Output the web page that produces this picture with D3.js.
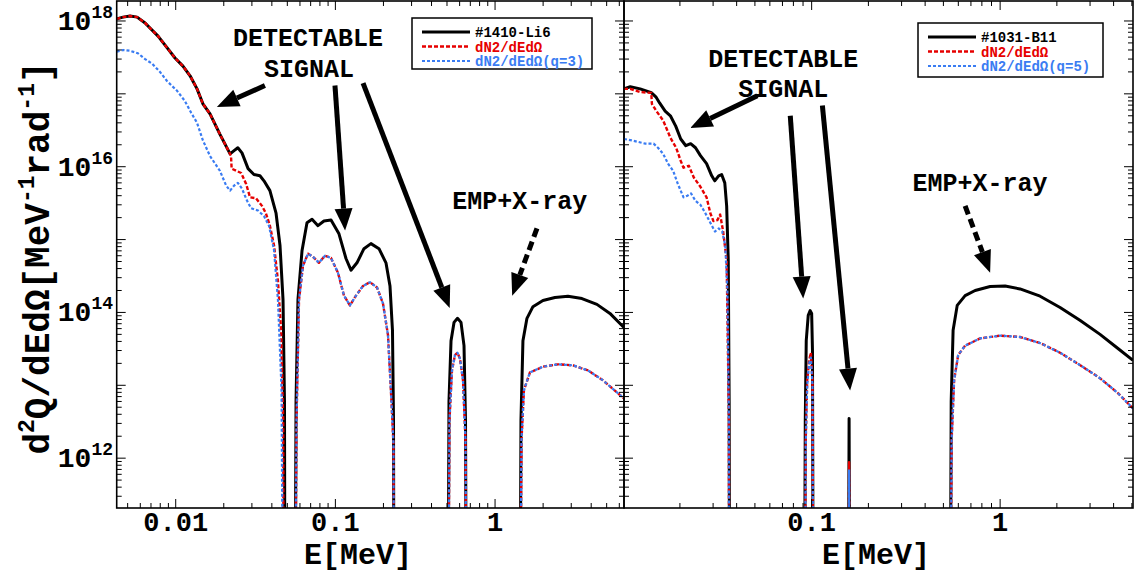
<!DOCTYPE html>
<html>
<head>
<meta charset="utf-8">
<script src="https://cdn.jsdelivr.net/npm/d3@7"></script>
<style>
body { margin: 0; background: #fff; }
svg text { font-family: "Liberation Mono", "Courier New", monospace; font-weight: bold; }
</style>
</head>
<body>
<script>
// Li6 panel (left)
const li6BlackE = [0.00427, 0.00468, 0.00518, 0.00573, 0.00643, 0.0069, 0.00775, 0.00882, 0.0099, 0.0111, 0.0123, 0.0136, 0.0148, 0.0164, 0.0189, 0.0219, 0.0232, 0.0245, 0.026, 0.0284, 0.0309, 0.0337, 0.0357, 0.0389, 0.0425, 0.045, 0.047, 0.048, 0.0484,
    0.0558, 0.0567, 0.0583, 0.0618, 0.0664, 0.0714, 0.0778, 0.0848, 0.0939, 0.1053, 0.1165, 0.1252, 0.1365, 0.151, 0.167, 0.1875, 0.2074, 0.2198, 0.2278, 0.2312, 0.2329,
    0.507, 0.5145, 0.53, 0.5533, 0.5819, 0.612, 0.6391, 0.653, 0.6625,
    1.432, 1.453, 1.495, 1.584, 1.727, 1.995, 2.372, 2.861, 3.501, 4.345, 5.242, 6.415]
const li6BlackV = [1.07e18, 1.13e18, 1.17e18, 1.13e18, 9.4e17, 8.0e17, 6.2e17, 4.3e17, 3.1e17, 2.4e17, 1.77e17, 1.17e17, 7.3e16, 5.3e16, 2.8e16, 1.5e16, 1.66e16, 1.82e16, 1.55e16, 9.4e15, 7.8e15, 7.5e15, 6.4e15, 4.7e15, 2.3e15, 8.3e14, 1.5e14, 6e12, 1e9,
    1e9, 6e12, 1.5e14, 7e14, 1.7e15, 1.9e15, 1.55e15, 1.8e15, 1.85e15, 1.2e15, 5.5e14, 3.8e14, 4.8e14, 7.5e14, 8.8e14, 7.5e14, 4.8e14, 2.3e14, 5.7e13, 3.3e12, 1e9,
    1e9, 6e12, 4.1e13, 7.3e13, 8.3e13, 7.3e13, 3.5e13, 3.3e12, 1e9,
    1e9, 3.3e12, 4.1e13, 8.3e13, 1.2e14, 1.46e14, 1.6e14, 1.67e14, 1.55e14, 1.29e14, 9.7e13, 6.2e13]
const li6RedE = [0.00427, 0.00468, 0.00518, 0.00573, 0.00643, 0.0069, 0.00775, 0.00882, 0.0099, 0.0111, 0.0123, 0.0136, 0.0148, 0.0164, 0.0189, 0.0219, 0.0222, 0.0224, 0.0239, 0.0257, 0.0276, 0.0292, 0.0318, 0.0347, 0.0367, 0.0389, 0.0413, 0.0437, 0.0457, 0.0471, 0.0475]
const li6RedV = [1.07e18, 1.13e18, 1.17e18, 1.13e18, 9.4e17, 8.0e17, 6.2e17, 4.3e17, 3.1e17, 2.4e17, 1.77e17, 1.17e17, 7.3e16, 5.3e16, 2.8e16, 1.5e16, 1.4e16, 9.4e15, 8.8e15, 8.2e15, 5.8e15, 3.8e15, 3.7e15, 2.9e15, 2.3e15, 1.55e15, 8.3e14, 2.7e14, 5.7e13, 3.3e12, 1e9]
const li6BlueE = [0.00427, 0.00468, 0.00518, 0.0058, 0.00643, 0.00711, 0.00797, 0.00882, 0.0102, 0.0114, 0.0125, 0.0136, 0.0148, 0.0164, 0.0189, 0.0207, 0.0219, 0.0232, 0.0245, 0.026, 0.028, 0.0296, 0.0328, 0.0357, 0.0384, 0.0413, 0.0437, 0.046, 0.0471,
    0.0558, 0.0571, 0.0592, 0.0627, 0.0674, 0.0724, 0.0789, 0.0861, 0.0939, 0.1038, 0.1132, 0.1234, 0.1346, 0.1488, 0.1647, 0.1822, 0.1986, 0.2135, 0.2245, 0.2312, 0.2329,
    0.507, 0.5183, 0.5373, 0.561, 0.5819, 0.603, 0.63, 0.653, 0.6625,
    1.432, 1.464, 1.517, 1.654, 1.995, 2.477, 3.075, 3.817, 4.739, 6.415]
const li6BlueV = [3.8e17, 4.0e17, 3.9e17, 3.6e17, 3.0e17, 2.6e17, 2.0e17, 1.5e17, 1.1e17, 8.0e16, 5.5e16, 4.0e16, 2.3e16, 1.4e16, 8.8e15, 5.5e15, 4.7e15, 5.5e15, 6.0e15, 5.0e15, 3.4e15, 2.7e15, 2.5e15, 2.1e15, 1.55e15, 7.1e14, 1.46e14, 8.6e12, 1e9,
    1e9, 3.3e12, 1.5e14, 4.4e14, 6.4e14, 5.8e14, 4.8e14, 6.0e14, 5.6e14, 3.5e14, 1.7e14, 1.25e14, 1.7e14, 2.3e14, 2.6e14, 2.2e14, 1.33e14, 4.9e13, 6e12, 1.5e12, 1e9,
    1e9, 3.3e12, 1.6e13, 2.6e13, 2.8e13, 2.3e13, 1.17e13, 1.76e12, 1e9,
    1e9, 1.76e12, 8.6e12, 1.5e13, 1.8e13, 1.94e13, 1.88e13, 1.6e13, 1.17e13, 6.6e12]

// B11 panel (right)
const b11BlackE = [0.0101, 0.0109, 0.0123, 0.0141, 0.0149, 0.0156, 0.0167, 0.0178, 0.019, 0.0202, 0.0215, 0.0228, 0.0242, 0.0257, 0.0277, 0.0295, 0.0306, 0.0321, 0.0333, 0.0346, 0.0354, 0.0361, 0.0365, 0.0367,
    0.0914, 0.0925, 0.0936, 0.0959, 0.0982, 0.1, 0.101, 0.102,
    0.1565, 0.158, 0.1595,
    0.543, 0.55, 0.563, 0.592, 0.652, 0.737, 0.885, 1.063, 1.276, 1.63, 2.08, 2.65, 3.39, 4.22, 5.07]
const b11BlackV = [1.17e17, 1.25e17, 1.17e17, 1.04e17, 9.1e16, 7.5e16, 5.8e16, 5.0e16, 3.6e16, 2.4e16, 1.94e16, 2.07e16, 1.82e16, 1.42e16, 1.1e16, 7.5e15, 6.4e15, 7.5e15, 7.8e15, 6.0e15, 2.9e15, 5.2e14, 6e12, 1e9,
    1e9, 3.3e12, 4.1e13, 9.1e13, 1.06e14, 9.7e13, 3.0e13, 1e9,
    1e9, 3.5e12, 1e9,
    1e9, 6e12, 5.7e13, 1.25e14, 1.7e14, 2.0e14, 2.27e14, 2.3e14, 2.1e14, 1.67e14, 1.17e14, 7.8e13, 5.0e13, 3.2e13, 2.2e13]
const b11RedE = [0.0101, 0.0109, 0.0123, 0.0141, 0.0142, 0.015, 0.0163, 0.0178, 0.0191, 0.0202, 0.0209, 0.0223, 0.0237, 0.0257, 0.0277, 0.029, 0.0301, 0.0316, 0.0327, 0.0339, 0.0354, 0.0364, 0.0365,
    0.092, 0.093, 0.0947, 0.097, 0.099, 0.101, 0.102,
    0.1565, 0.158, 0.1595]
const b11RedV = [1.17e17, 1.17e17, 1.06e17, 1.03e17, 7.3e16, 5.8e16, 4.3e16, 2.5e16, 1.82e16, 1.2e16, 9.7e15, 1.03e16, 7.1e15, 5.3e15, 3.8e15, 2.3e15, 1.8e15, 1.85e15, 2.2e15, 1.3e15, 5.2e14, 3.3e12, 1e9,
    1e9, 1.76e12, 1.17e13, 2.2e13, 2.8e13, 1.17e13, 1e9,
    1e9, 8.8e11, 1e9]
const b11BlueE = [0.0101, 0.0111, 0.0131, 0.0145, 0.0153, 0.0163, 0.0173, 0.0184, 0.0195, 0.0209, 0.0219, 0.0229, 0.0242, 0.0257, 0.0273, 0.029, 0.0307, 0.0321, 0.0335, 0.0348, 0.0357, 0.0364, 0.0365,
    0.092, 0.093, 0.0947, 0.097, 0.099, 0.101, 0.102,
    0.1565, 0.158, 0.1595,
    0.543, 0.553, 0.57, 0.599, 0.652, 0.783, 1.0, 1.276, 1.63, 2.08, 2.65, 3.39, 4.22, 5.07]
const b11BlueV = [2.4e16, 2.3e16, 2.07e16, 2.07e16, 1.82e16, 1.5e16, 1.1e16, 8.8e15, 5.8e15, 3.8e15, 4.0e15, 4.3e15, 3.4e15, 3.0e15, 2.3e15, 1.7e15, 1.29e15, 1.42e15, 1.3e15, 8.3e14, 2e14, 3.3e12, 1e9,
    1e9, 1.5e12, 1e13, 2.0e13, 2.4e13, 1e13, 1e9,
    1e9, 7e11, 1e9,
    1e9, 1.76e12, 1.17e13, 2.6e13, 3.5e13, 4.4e13, 4.8e13, 4.6e13, 3.8e13, 2.8e13, 1.9e13, 1.25e13, 7.8e12, 4.8e12]

const yLabelValues = [1e12, 1e14, 1e16, 1e18]
const li6XLabels = [0.01, 0.1, 1]
const b11XLabels = [0.1, 1]

const width = 1134
const height = 573
const plotTop = 1
const plotBottom = 508
const red = "#e60000"
const blue = "#3a7cf2"

const svg = d3.select("body")
    .append("svg")
    .attr("width", width)
    .attr("height", height)

const y = d3.scaleLog()
    .domain([2.07e11, 1.88e18])
    .range([plotBottom, plotTop])

function logTicks(lo, hi) {
    var t = []
    for (var e = -4; e <= 19; e++) {
        for (var k = 1; k < 10; k++) {
            var v = k * Math.pow(10, e)
            if (v >= lo * 0.999 && v <= hi * 1.001) t.push({ v: v, major: k == 1 })
        }
    }
    return t
}

function arrow(g, x, from, to, dashed) {
    const x1 = x(from[0]), y1 = y(from[1]), x2 = x(to[0]), y2 = y(to[1])
    const a = Math.atan2(y2 - y1, x2 - x1)
    const hl = 22, hw = 9
    const bx = x2 - hl * Math.cos(a), by = y2 - hl * Math.sin(a)
    g.append("line")
        .attr("x1", x1).attr("y1", y1)
        .attr("x2", bx).attr("y2", by)
        .attr("stroke", "#000")
        .attr("stroke-width", 5)
        .attr("stroke-dasharray", dashed ? "9,5" : null)
    g.append("path")
        .attr("d", `M${x2},${y2}L${bx - hw * Math.sin(a)},${by + hw * Math.cos(a)}L${bx + hw * Math.sin(a)},${by - hw * Math.cos(a)}Z`)
        .attr("fill", "#000")
}

function panel(opt) {
    const x = d3.scaleLog().domain(opt.domain).range(opt.range)
    const x0 = opt.range[0], x1 = opt.range[1]
    const g = svg.append("g")

    svg.append("clipPath").attr("id", opt.id)
        .append("rect")
        .attr("x", x0).attr("y", plotTop)
        .attr("width", x1 - x0).attr("height", plotBottom - plotTop)

    const line = d3.line().x(d => x(d[0])).y(d => y(d[1]))
    const lines = g.append("g").attr("clip-path", `url(#${opt.id})`)
    opt.series.forEach(s => {
        lines.append("path")
            .datum(d3.zip(s.E, s.V))
            .attr("d", line)
            .attr("fill", "none")
            .attr("stroke", s.color)
            .attr("stroke-width", s.w)
            .attr("stroke-dasharray", s.dash)
            .attr("stroke-linejoin", "round")
    })

    // frame and ticks
    g.append("rect")
        .attr("x", x0).attr("y", plotTop)
        .attr("width", x1 - x0).attr("height", plotBottom - plotTop)
        .attr("fill", "none").attr("stroke", "#000").attr("stroke-width", 1.6)

    logTicks(opt.domain[0], opt.domain[1]).forEach(t => {
        const px = x(t.v), len = t.major ? 9 : 5
        g.append("line").attr("x1", px).attr("x2", px).attr("y1", plotBottom).attr("y2", plotBottom - len).attr("stroke", "#000").attr("stroke-width", 1)
        g.append("line").attr("x1", px).attr("x2", px).attr("y1", plotTop).attr("y2", plotTop + len).attr("stroke", "#000").attr("stroke-width", 1)
    })
    logTicks(y.domain()[0], y.domain()[1]).forEach(t => {
        const py = y(t.v), len = t.major ? 9 : 5
        g.append("line").attr("x1", x0).attr("x2", x0 + len).attr("y1", py).attr("y2", py).attr("stroke", "#000").attr("stroke-width", 1)
        g.append("line").attr("x1", x1).attr("x2", x1 - len).attr("y1", py).attr("y2", py).attr("stroke", "#000").attr("stroke-width", 1)
    })

    opt.xLabels.forEach(v => {
        g.append("text")
            .attr("x", x(v)).attr("y", 531)
            .attr("text-anchor", "middle")
            .style("font-size", "27px")
            .text(v)
    })
    g.append("text")
        .attr("x", opt.titleX).attr("y", 564)
        .attr("text-anchor", "middle")
        .style("font-size", "30px")
        .text("E[MeV]")

    // annotations
    opt.notes.forEach(n => {
        g.append("text")
            .attr("x", x(n.at[0])).attr("y", y(n.at[1]))
            .attr("text-anchor", "middle")
            .style("font-size", "25px")
            .text(n.text)
    })
    opt.arrows.forEach(a => arrow(g, x, a.from, a.to, a.dashed))

    // legend
    const lg = g.append("g").attr("transform", `translate(${opt.legend.x},${opt.legend.y})`)
    lg.append("rect")
        .attr("width", opt.legend.w).attr("height", opt.legend.h)
        .attr("fill", "#fff").attr("stroke", "#000").attr("stroke-width", 1.5)
    opt.series.forEach((s, i) => {
        const ly = 14 + i * 14.5
        lg.append("line")
            .attr("x1", 10).attr("x2", 58).attr("y1", ly).attr("y2", ly)
            .attr("stroke", s.color).attr("stroke-width", s.w)
            .attr("stroke-dasharray", s.dash)
        lg.append("text")
            .attr("x", 63).attr("y", ly + 5)
            .attr("fill", s.color)
            .style("font-size", "14px")
            .text(s.name)
    })
}

const li6Tail = d3.zip(li6BlueE, li6BlueV).filter(d => d[0] > 0.05)
const b11Tail = d3.zip(b11BlueE, b11BlueV).filter(d => d[0] > 0.5)

panel({
    id: "clipLi6",
    domain: [0.00427, 6.42],
    range: [116.7, 624],
    xLabels: li6XLabels,
    titleX: 358,
    series: [
        { name: "#1410-Li6", E: li6BlackE, V: li6BlackV, color: "#000", w: 3, dash: null },
        { name: "dN2/dEdΩ", E: li6RedE.concat(li6Tail.map(d => d[0])), V: li6RedV.concat(li6Tail.map(d => d[1])), color: red, w: 2.4, dash: "4,2" },
        { name: "dN2/dEdΩ(q=3)", E: li6BlueE, V: li6BlueV, color: blue, w: 2.2, dash: "3,2" }
    ],
    notes: [
        { text: "DETECTABLE", at: [0.0673, 4.5e17] },
        { text: "SIGNAL", at: [0.0683, 1.7e17] },
        { text: "EMP+X-ray", at: [1.43, 2.66e15] }
    ],
    arrows: [
        { from: [0.0362, 1.3e17], to: [0.0181, 6.6e16] },
        { from: [0.0994, 1.3e17], to: [0.115, 1.33e15] },
        { from: [0.149, 1.4e17], to: [0.52, 1.15e14] },
        { from: [1.83, 1.42e15], to: [1.28, 1.7e14], dashed: true }
    ],
    legend: { x: 412, y: 18, w: 180, h: 51 }
})

panel({
    id: "clipB11",
    domain: [0.0101, 5.07],
    range: [624, 1133],
    xLabels: b11XLabels,
    titleX: 876,
    series: [
        { name: "#1031-B11", E: b11BlackE, V: b11BlackV, color: "#000", w: 3, dash: null },
        { name: "dN2/dEdΩ", E: b11RedE.concat(b11Tail.map(d => d[0])), V: b11RedV.concat(b11Tail.map(d => d[1])), color: red, w: 2.4, dash: "4,2" },
        { name: "dN2/dEdΩ(q=5)", E: b11BlueE, V: b11BlueV, color: blue, w: 2.2, dash: "3,2" }
    ],
    notes: [
        { text: "DETECTABLE", at: [0.0707, 2.3e17] },
        { text: "SIGNAL", at: [0.0707, 9.1e16] },
        { text: "EMP+X-ray", at: [0.783, 4.7e15] }
    ],
    arrows: [
        { from: [0.0515, 9.4e16], to: [0.0227, 3.4e16] },
        { from: [0.077, 5.0e16], to: [0.0902, 1.55e14] },
        { from: [0.114, 6.9e16], to: [0.16, 8.5e12] },
        { from: [0.652, 2.9e15], to: [0.885, 3.5e14], dashed: true }
    ],
    legend: { x: 918, y: 23, w: 185, h: 54 }
})

// y axis labels
yLabelValues.forEach(v => {
    const t = svg.append("text")
        .attr("x", 113).attr("y", y(v) + 9)
        .attr("text-anchor", "end")
        .style("font-size", "28px")
    t.append("tspan").text("10")
    t.append("tspan").attr("dy", -12).style("font-size", "18px").text(Math.round(Math.log10(v)))
})

const yt = svg.append("text")
    .attr("transform", `translate(49,258) rotate(-90)`)
    .attr("text-anchor", "middle")
    .style("font-size", "36px")
yt.append("tspan").text("d")
yt.append("tspan").attr("dy", -15).style("font-size", "23px").text("2")
yt.append("tspan").attr("dy", 15).text("Q/dEdΩ[MeV")
yt.append("tspan").attr("dy", -15).style("font-size", "23px").text("-1")
yt.append("tspan").attr("dy", 15).text("rad")
yt.append("tspan").attr("dy", -15).style("font-size", "23px").text("-1")
yt.append("tspan").attr("dy", 15).text("]")
</script>
</body>
</html>
